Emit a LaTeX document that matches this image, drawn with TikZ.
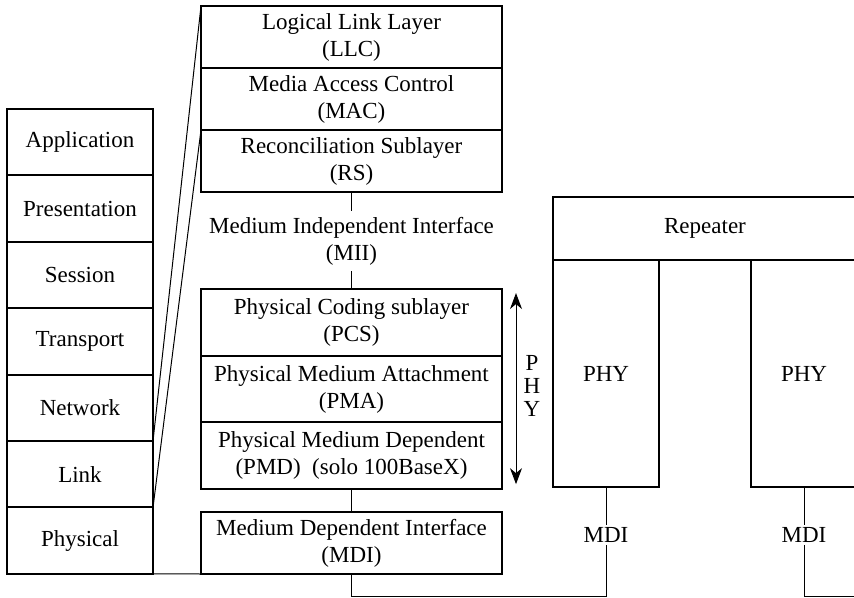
\documentclass[tikz,border=0pt]{standalone}
\usepackage{fontspec}
\setmainfont{Liberation Serif}
\usetikzlibrary{positioning,arrows.meta}

\begin{document}
\begin{tikzpicture}[x=1pt, y=-1pt,
      font=\fontsize{23}{27}\selectfont,
      layer/.style={draw, line width=2pt, rectangle, outer sep=0pt, inner sep=2pt, align=center},
      osi/.style={layer, minimum width=146pt, minimum height=66.4pt},
      sub/.style={layer, minimum width=301pt, minimum height=62pt},
      physub/.style={layer, minimum width=301pt, minimum height=66.7pt},
      wire/.style={line width=1pt},
      phyarrow/.style={line width=1pt, {Stealth[length=16pt,width=12pt,inset=5pt]}-{Stealth[length=16pt,width=12pt,inset=5pt]}}
    ]
    \clip (0,0) rectangle (854,597);

    % OSI stack
    \node[osi] (app) at (80,142.2) {Application};
    \node[osi,below=0pt of app] (pres) {Presentation};
    \node[osi,below=0pt of pres] (sess) {Session};
    \node[osi,below=0pt of sess] (trans) {Transport};
    \node[osi,below=0pt of trans] (net) {Network};
    \node[osi,below=0pt of net] (link) {Link};
    \node[osi,below=0pt of link] (physical) {Physical};

    % data link sublayers
    \node[sub] (llc) at (351.5,37) {Logical Link Layer\\(LLC)};
    \node[sub,below=0pt of llc] (mac) {Media Access Control\\(MAC)};
    \node[sub,below=0pt of mac] (rs) {Reconciliation Sublayer\\(RS)};
    \node[inner sep=6pt,align=center] (mii) at (351.5,241) {Medium Independent Interface\\(MII)};

    % physical sublayers
    \node[physub] (pcs) at (351.5,322.4) {Physical Coding sublayer\\(PCS)};
    \node[physub,below=0pt of pcs] (pma) {Physical Medium Attachment\\(PMA)};
    \node[physub,below=0pt of pma] (pmd) {Physical Medium Dependent\\(PMD)\ \ (solo 100BaseX)};
    \node[sub] (mdi) at (351.5,543) {Medium Dependent Interface\\(MDI)};
    \node[align=center,font=\fontsize{23}{23}\selectfont] (phylbl) at (532,386) {P\\H\\Y};

    % repeater
    \node[layer,minimum width=304pt,minimum height=63pt] (rep) at (705,228.5) {Repeater};
    \node[layer,minimum width=106pt,minimum height=227pt,anchor=north west] (phya) at (rep.south west) {PHY};
    \node[layer,minimum width=106pt,minimum height=227pt,anchor=north west] (phyb) at ([xshift=198pt]rep.south west) {PHY};
    \node[inner sep=2pt] (mdia) at (606,535) {MDI};
    \node[inner sep=2pt] (mdib) at (804,535) {MDI};

    \coordinate (floor) at (0,596);
    \coordinate (edge) at (860,596);

    \draw[wire] (link.north east) -- (llc.north west);
    \draw[wire] (link.south east) -- (rs.north west);
    \draw[wire] (physical.south east) -- (mdi.south west);
    \draw[wire] (rs) -- (mii);
    \draw[wire] (mii) -- (pcs);
    \draw[wire] (pmd) -- (mdi);
    \draw[phyarrow] ([xshift=14pt,yshift=-4pt]pcs.north east) -- ([xshift=14pt,yshift=5pt]pmd.south east);
    \draw[wire] (phya) -- (mdia);
    \draw[wire] (phyb) -- (mdib);
    \draw[wire] (mdi.south) -- (mdi.south |- floor) -| (mdia.south);
    \draw[wire] (mdib.south) |- (edge);
  \end{tikzpicture}
\end{document}
